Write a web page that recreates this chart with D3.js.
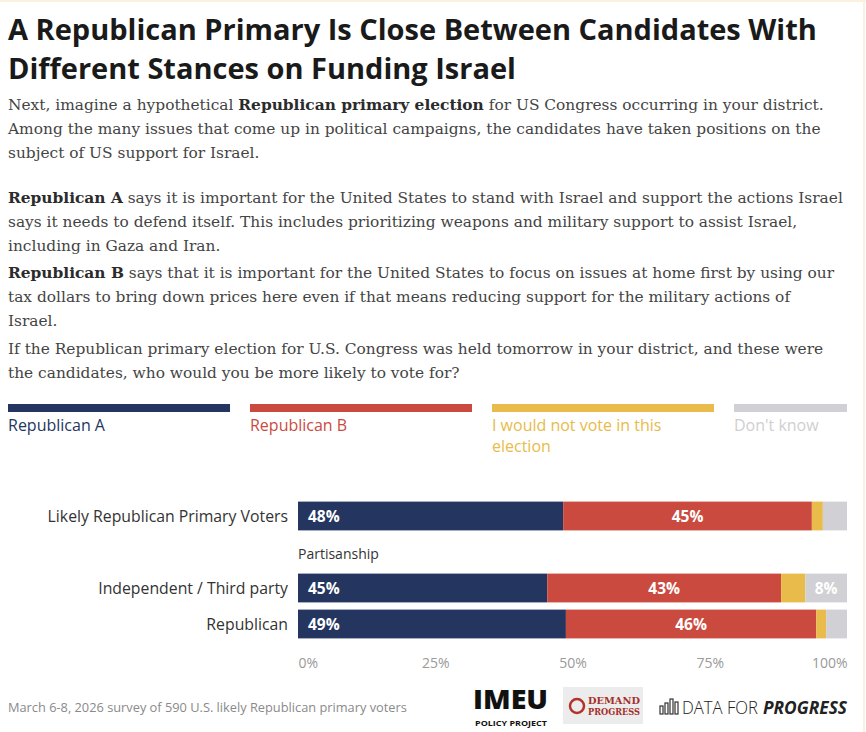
<!DOCTYPE html>
<html>
<head>
<meta charset="utf-8">
<script src="https://cdn.jsdelivr.net/npm/d3@7"></script>
<style>
  html, body { margin: 0; padding: 0; background: #fff; }
  #chart { width: 866px; height: 732px; }
</style>
</head>
<body>
<div id="chart"></div>
<script>
// ---- data ----
const seriesNames = ["Republican A", "Republican B", "I would not vote in this election", "Don't know"];
const seriesColors = ["#24365f", "#cb4a3f", "#e8bb4a", "#d1d0d4"];
const groups = ["Likely Republican Primary Voters", "Partisanship", "Independent / Third party", "Republican"];
const headerRows = ["Partisanship"];
const repA = [48.3, null, 45.4, 48.8];
const repB = [45.3, null, 42.6, 45.6];
const noVote = [2.0, null, 4.4, 1.8];
const dontKnow = [4.4, null, 7.6, 3.8];
const xTicks = [0, 25, 50, 75, 100];

const titleLines = [
  "A Republican Primary Is Close Between Candidates With",
  "Different Stances on Funding Israel"
];
// each paragraph: lines of [text, bold] segments
const paragraphs = [
  [[["Next, imagine a hypothetical ", false], ["Republican primary election", true], [" for US Congress occurring in your district.", false]],
   [["Among the many issues that come up in political campaigns, the candidates have taken positions on the", false]],
   [["subject of US support for Israel.", false]]],
  [[["Republican A", true], [" says it is important for the United States to stand with Israel and support the actions Israel", false]],
   [["says it needs to defend itself. This includes prioritizing weapons and military support to assist Israel,", false]],
   [["including in Gaza and Iran.", false]]],
  [[["Republican B", true], [" says that it is important for the United States to focus on issues at home first by using our", false]],
   [["tax dollars to bring down prices here even if that means reducing support for the military actions of", false]],
   [["Israel.", false]]],
  [[["If the Republican primary election for U.S. Congress was held tomorrow in your district, and these were", false]],
   [["the candidates, who would you be more likely to vote for?", false]]]
];
const paraTops = [110, 203, 278, 354];
const footnote = "March 6-8, 2026 survey of 590 U.S. likely Republican primary voters";

const sans = "'Open Sans', Lato, sans-serif";
const serif = "'DejaVu Serif', Georgia, serif";

const W = 866, H = 732;
const svg = d3.select("#chart").append("svg")
    .attr("width", W).attr("height", H);

// faint frame at top/right like the source page
svg.append("line").attr("x1", 0).attr("x2", W).attr("y1", 1).attr("y2", 1)
    .attr("stroke", "#fbf1e1").attr("stroke-width", 2);
svg.append("line").attr("x1", W - 2).attr("x2", W - 2).attr("y1", 0).attr("y2", H)
    .attr("stroke", "#fbf1e1").attr("stroke-width", 2);

// title
svg.append("g").selectAll("text")
    .data(titleLines)
    .join("text")
    .attr("x", 8)
    .attr("y", (d, i) => 40 + i * 39)
    .attr("font-family", sans)
    .attr("font-weight", 700)
    .attr("font-size", 29)
    .attr("fill", "#1a1a1a")
    .text(d => d);

// body paragraphs
const body = svg.append("g")
    .attr("font-family", serif)
    .attr("font-size", 15.4)
    .attr("fill", "#444");
paragraphs.forEach((para, pi) => {
  para.forEach((line, li) => {
    const t = body.append("text")
        .attr("x", 8)
        .attr("y", paraTops[pi] + li * 24);
    line.forEach(seg => {
      t.append("tspan")
          .attr("font-weight", seg[1] ? 700 : 400)
          .attr("fill", seg[1] ? "#2b2b2b" : "#444")
          .text(seg[0]);
    });
  });
});

// legend
const legendX = d3.scaleBand().domain(seriesNames).range([8, 956]).paddingInner(0.0826);
const legend = svg.append("g");
seriesNames.forEach((name, i) => {
  const lx = legendX(name);
  const lw = Math.min(legendX.bandwidth(), 847 - lx);
  legend.append("rect")
      .attr("x", lx).attr("y", 404)
      .attr("width", lw).attr("height", 8)
      .attr("fill", seriesColors[i]);
  const words = i === 2 ? ["I would not vote in this", "election"] : [name];
  legend.append("g").selectAll("text")
      .data(words)
      .join("text")
      .attr("x", lx)
      .attr("y", (d, j) => 431 + j * 21)
      .attr("font-family", sans)
      .attr("font-size", 16)
      .attr("fill", i === 3 ? "#cfcfcf" : seriesColors[i])
      .text(d => d);
});

// chart
const x = d3.scaleLinear().domain([0, 100]).range([298, 847]);
const y = d3.scaleBand().domain(groups).range([498, 642]).paddingInner(0.2).paddingOuter(0.1);

const rows = groups.map((g, i) => ({
  group: g, a: repA[i], b: repB[i], n: noVote[i], d: dontKnow[i]
})).filter(r => !headerRows.includes(r.group));
const keys = ["a", "b", "n", "d"];
const stacked = d3.stack().keys(keys)(rows);

const bars = svg.append("g");
stacked.forEach((layer, li) => {
  bars.append("g")
      .attr("fill", seriesColors[li])
      .selectAll("rect")
      .data(layer)
      .join("rect")
      .attr("x", d => x(d[0]))
      .attr("y", d => y(d.data.group))
      .attr("width", d => x(d[1]) - x(d[0]))
      .attr("height", y.bandwidth());
  bars.append("g")
      .selectAll("text")
      .data(layer.filter(d => d[1] - d[0] >= 5))
      .join("text")
      .attr("x", d => li === 0 ? x(d[0]) + 10 : (x(d[0]) + x(d[1])) / 2)
      .attr("y", d => y(d.data.group) + y.bandwidth() / 2)
      .attr("dy", "0.36em")
      .attr("text-anchor", li === 0 ? "start" : "middle")
      .attr("font-family", sans)
      .attr("font-weight", 700)
      .attr("font-size", 15.5)
      .attr("fill", "#fff")
      .text(d => Math.round(d[1] - d[0]) + "%");
});

// category labels
svg.append("g").selectAll("text")
    .data(groups)
    .join("text")
    .attr("x", d => headerRows.includes(d) ? 298 : 288)
    .attr("y", d => y(d) + y.bandwidth() / 2 + (headerRows.includes(d) ? 2 : 0))
    .attr("dy", "0.36em")
    .attr("text-anchor", d => headerRows.includes(d) ? "start" : "end")
    .attr("font-family", sans)
    .attr("font-size", d => headerRows.includes(d) ? 14 : 15.8)
    .attr("fill", "#333")
    .text(d => d);

// x axis
const xAxis = svg.append("g")
    .attr("transform", "translate(0,652)")
    .call(d3.axisBottom(x).tickValues(xTicks).tickFormat(d => d + "%").tickSize(0).tickPadding(6));
xAxis.select(".domain").remove();
xAxis.selectAll("text")
    .attr("font-family", sans)
    .attr("font-size", 14)
    .attr("fill", "#9a9a9a")
    .attr("text-anchor", (d, i) => i === 0 ? "start" : i === xTicks.length - 1 ? "end" : "middle");

// footer
svg.append("text")
    .attr("x", 8).attr("y", 712)
    .attr("font-family", sans)
    .attr("font-size", 12.8)
    .attr("fill", "#8a8a8a")
    .text(footnote);

// logos (as text)
const logos = svg.append("g").attr("font-family", sans);
logos.append("text").attr("x", 473).attr("y", 709)
    .attr("font-size", 26).attr("font-weight", 800).attr("fill", "#111")
    .attr("textLength", 75).attr("lengthAdjust", "spacingAndGlyphs")
    .text("IMEU");
logos.append("text").attr("x", 475).attr("y", 726)
    .attr("font-size", 7.5).attr("font-weight", 700).attr("fill", "#111")
    .attr("textLength", 72).attr("lengthAdjust", "spacingAndGlyphs")
    .text("POLICY PROJECT");
logos.append("rect").attr("x", 563).attr("y", 687).attr("width", 80).attr("height", 37)
    .attr("fill", "#ececec");
logos.append("circle").attr("cx", 577).attr("cy", 706).attr("r", 7)
    .attr("fill", "none").attr("stroke", "#b3332b").attr("stroke-width", 2.5);
logos.append("text").attr("x", 588).attr("y", 704)
    .attr("font-family", "'DejaVu Serif', serif")
    .attr("font-size", 9).attr("font-weight", 700).attr("fill", "#a52f28")
    .attr("textLength", 52).attr("lengthAdjust", "spacingAndGlyphs")
    .text("DEMAND");
logos.append("text").attr("x", 588).attr("y", 715)
    .attr("font-family", "'DejaVu Serif', serif")
    .attr("font-size", 9).attr("font-weight", 700).attr("fill", "#a52f28")
    .attr("textLength", 52).attr("lengthAdjust", "spacingAndGlyphs")
    .text("PROGRESS");
// bar icon
const icon = logos.append("g").attr("fill", "none").attr("stroke", "#333").attr("stroke-width", 1.2);
[[660, 8], [665, 11], [670, 15], [675, 12]].forEach(b => {
  icon.append("rect").attr("x", b[0]).attr("y", 714 - b[1]).attr("width", 3).attr("height", b[1]);
});
logos.append("text").attr("x", 682).attr("y", 714)
    .attr("font-size", 18).attr("font-weight", 300).attr("fill", "#222")
    .attr("textLength", 76).attr("lengthAdjust", "spacingAndGlyphs")
    .text("DATA FOR");
logos.append("text").attr("x", 763).attr("y", 714)
    .attr("font-size", 18).attr("font-weight", 700).attr("font-style", "italic").attr("fill", "#222")
    .attr("textLength", 84).attr("lengthAdjust", "spacingAndGlyphs")
    .text("PROGRESS");
</script>
</body>
</html>
